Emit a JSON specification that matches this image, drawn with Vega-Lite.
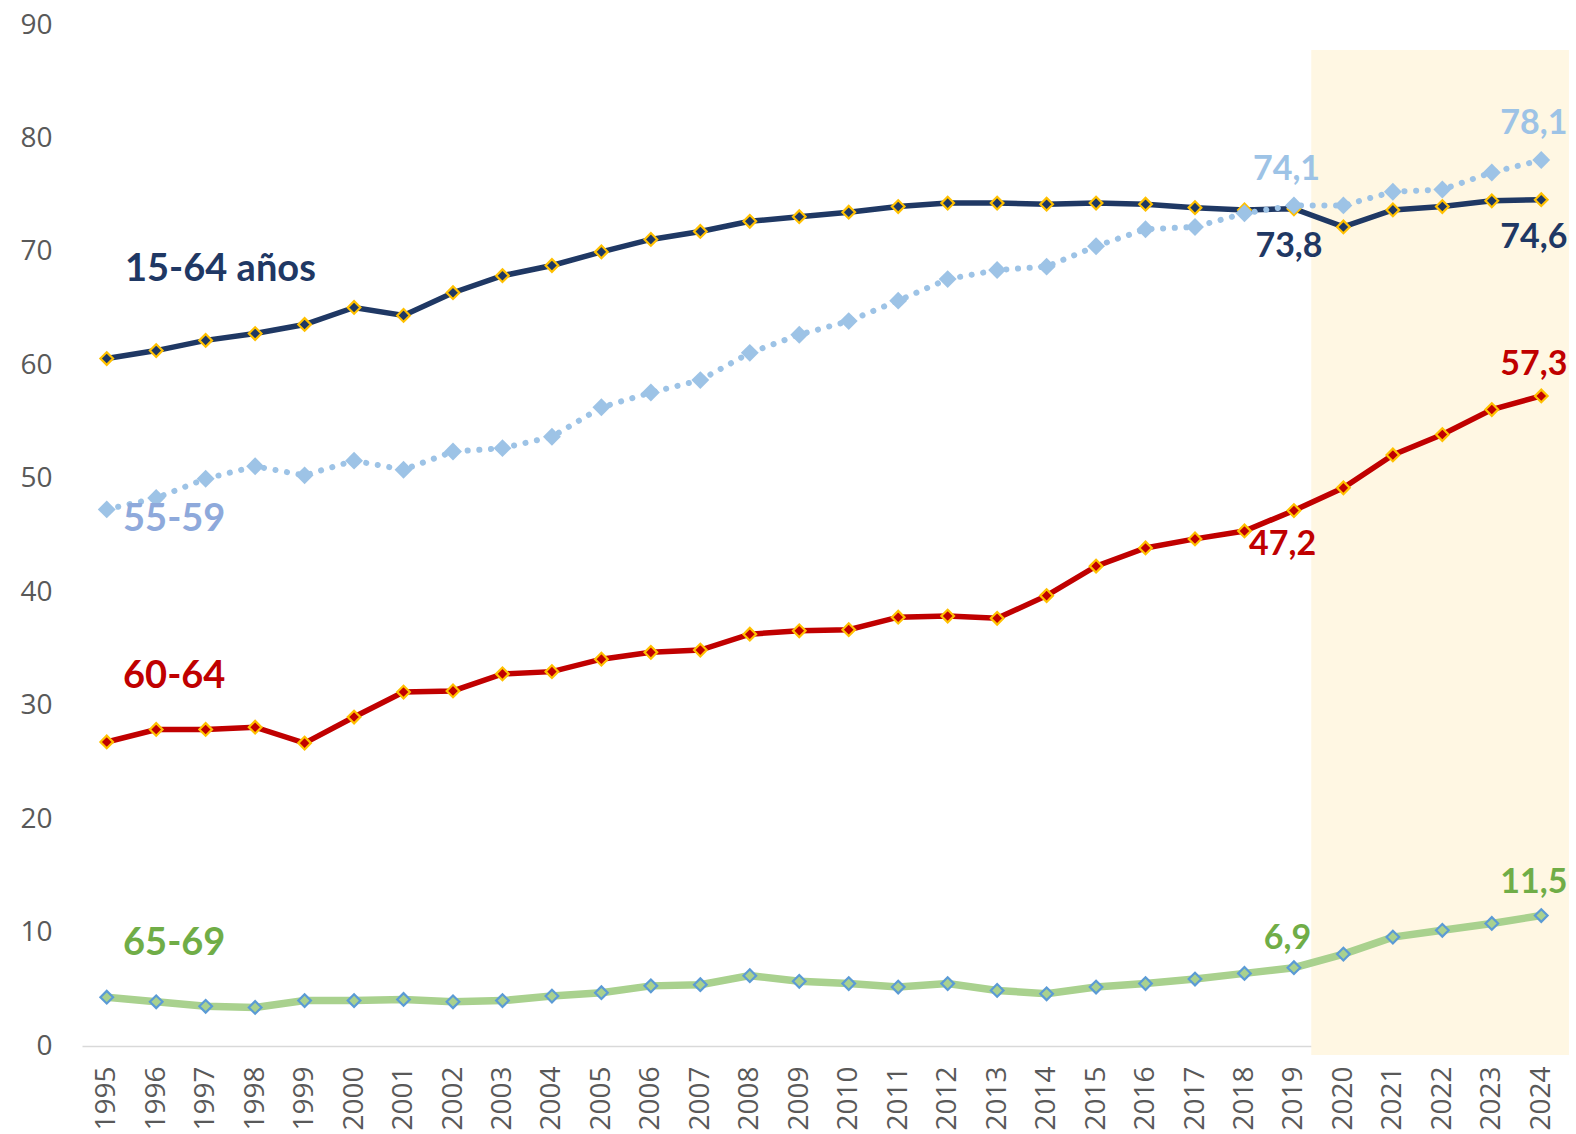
{
  "$schema": "https://vega.github.io/schema/vega-lite/v6.json",
  "width": 1484,
  "height": 1021,
  "autosize": {"type": "none"},
  "padding": {"left": 82, "top": 25, "right": 10, "bottom": 88},
  "background": "white",
  "config": {"view": {"stroke": null}},
  "datasets": {
    "series": [
      {"year":1995,"series":"15-64","value":60.6},{"year":1996,"series":"15-64","value":61.3},{"year":1997,"series":"15-64","value":62.2},{"year":1998,"series":"15-64","value":62.8},{"year":1999,"series":"15-64","value":63.6},{"year":2000,"series":"15-64","value":65.1},{"year":2001,"series":"15-64","value":64.4},{"year":2002,"series":"15-64","value":66.4},{"year":2003,"series":"15-64","value":67.9},{"year":2004,"series":"15-64","value":68.8},{"year":2005,"series":"15-64","value":70.0},{"year":2006,"series":"15-64","value":71.1},{"year":2007,"series":"15-64","value":71.8},{"year":2008,"series":"15-64","value":72.7},{"year":2009,"series":"15-64","value":73.1},{"year":2010,"series":"15-64","value":73.5},{"year":2011,"series":"15-64","value":74.0},{"year":2012,"series":"15-64","value":74.3},{"year":2013,"series":"15-64","value":74.3},{"year":2014,"series":"15-64","value":74.2},{"year":2015,"series":"15-64","value":74.3},{"year":2016,"series":"15-64","value":74.2},{"year":2017,"series":"15-64","value":73.9},{"year":2018,"series":"15-64","value":73.7},{"year":2019,"series":"15-64","value":73.8},{"year":2020,"series":"15-64","value":72.2},{"year":2021,"series":"15-64","value":73.7},{"year":2022,"series":"15-64","value":74.0},{"year":2023,"series":"15-64","value":74.5},{"year":2024,"series":"15-64","value":74.6},
      {"year":1995,"series":"55-59","value":47.3},{"year":1996,"series":"55-59","value":48.3},{"year":1997,"series":"55-59","value":50.0},{"year":1998,"series":"55-59","value":51.1},{"year":1999,"series":"55-59","value":50.3},{"year":2000,"series":"55-59","value":51.6},{"year":2001,"series":"55-59","value":50.8},{"year":2002,"series":"55-59","value":52.4},{"year":2003,"series":"55-59","value":52.7},{"year":2004,"series":"55-59","value":53.7},{"year":2005,"series":"55-59","value":56.3},{"year":2006,"series":"55-59","value":57.6},{"year":2007,"series":"55-59","value":58.7},{"year":2008,"series":"55-59","value":61.1},{"year":2009,"series":"55-59","value":62.7},{"year":2010,"series":"55-59","value":63.9},{"year":2011,"series":"55-59","value":65.7},{"year":2012,"series":"55-59","value":67.6},{"year":2013,"series":"55-59","value":68.4},{"year":2014,"series":"55-59","value":68.7},{"year":2015,"series":"55-59","value":70.5},{"year":2016,"series":"55-59","value":72.0},{"year":2017,"series":"55-59","value":72.2},{"year":2018,"series":"55-59","value":73.4},{"year":2019,"series":"55-59","value":74.1},{"year":2020,"series":"55-59","value":74.1},{"year":2021,"series":"55-59","value":75.3},{"year":2022,"series":"55-59","value":75.5},{"year":2023,"series":"55-59","value":77.0},{"year":2024,"series":"55-59","value":78.1},
      {"year":1995,"series":"60-64","value":26.8},{"year":1996,"series":"60-64","value":27.9},{"year":1997,"series":"60-64","value":27.9},{"year":1998,"series":"60-64","value":28.1},{"year":1999,"series":"60-64","value":26.7},{"year":2000,"series":"60-64","value":29.0},{"year":2001,"series":"60-64","value":31.2},{"year":2002,"series":"60-64","value":31.3},{"year":2003,"series":"60-64","value":32.8},{"year":2004,"series":"60-64","value":33.0},{"year":2005,"series":"60-64","value":34.1},{"year":2006,"series":"60-64","value":34.7},{"year":2007,"series":"60-64","value":34.9},{"year":2008,"series":"60-64","value":36.3},{"year":2009,"series":"60-64","value":36.6},{"year":2010,"series":"60-64","value":36.7},{"year":2011,"series":"60-64","value":37.8},{"year":2012,"series":"60-64","value":37.9},{"year":2013,"series":"60-64","value":37.7},{"year":2014,"series":"60-64","value":39.7},{"year":2015,"series":"60-64","value":42.3},{"year":2016,"series":"60-64","value":43.9},{"year":2017,"series":"60-64","value":44.7},{"year":2018,"series":"60-64","value":45.4},{"year":2019,"series":"60-64","value":47.2},{"year":2020,"series":"60-64","value":49.2},{"year":2021,"series":"60-64","value":52.1},{"year":2022,"series":"60-64","value":53.9},{"year":2023,"series":"60-64","value":56.1},{"year":2024,"series":"60-64","value":57.3},
      {"year":1995,"series":"65-69","value":4.3},{"year":1996,"series":"65-69","value":3.9},{"year":1997,"series":"65-69","value":3.5},{"year":1998,"series":"65-69","value":3.4},{"year":1999,"series":"65-69","value":4.0},{"year":2000,"series":"65-69","value":4.0},{"year":2001,"series":"65-69","value":4.1},{"year":2002,"series":"65-69","value":3.9},{"year":2003,"series":"65-69","value":4.0},{"year":2004,"series":"65-69","value":4.4},{"year":2005,"series":"65-69","value":4.7},{"year":2006,"series":"65-69","value":5.3},{"year":2007,"series":"65-69","value":5.4},{"year":2008,"series":"65-69","value":6.2},{"year":2009,"series":"65-69","value":5.7},{"year":2010,"series":"65-69","value":5.5},{"year":2011,"series":"65-69","value":5.2},{"year":2012,"series":"65-69","value":5.5},{"year":2013,"series":"65-69","value":4.9},{"year":2014,"series":"65-69","value":4.6},{"year":2015,"series":"65-69","value":5.2},{"year":2016,"series":"65-69","value":5.5},{"year":2017,"series":"65-69","value":5.9},{"year":2018,"series":"65-69","value":6.4},{"year":2019,"series":"65-69","value":6.9},{"year":2020,"series":"65-69","value":8.1},{"year":2021,"series":"65-69","value":9.6},{"year":2022,"series":"65-69","value":10.2},{"year":2023,"series":"65-69","value":10.8},{"year":2024,"series":"65-69","value":11.5}
    ],
    "shade": [{"year": 2019.35, "year2": 2024.56, "value": -0.8, "value2": 87.8}],
    "names": [
      {"text": "15-64 años", "series": "15-64", "year": 1995.37, "value": 68.4},
      {"text": "55-59", "series": "55-59", "year": 1995.33, "value": 46.4},
      {"text": "60-64", "series": "60-64", "year": 1995.33, "value": 32.5},
      {"text": "65-69", "series": "65-69", "year": 1995.33, "value": 9.0}
    ],
    "values": [
      {"text": "74,1", "series": "55-59", "year": 2018.85, "value": 77.2},
      {"text": "78,1", "series": "55-59", "year": 2023.85, "value": 81.3},
      {"text": "73,8", "series": "15-64", "year": 2018.9, "value": 70.4},
      {"text": "74,6", "series": "15-64", "year": 2023.85, "value": 71.25},
      {"text": "47,2", "series": "60-64", "year": 2018.77, "value": 44.2},
      {"text": "57,3", "series": "60-64", "year": 2023.85, "value": 60.0},
      {"text": "6,9", "series": "65-69", "year": 2018.87, "value": 9.4},
      {"text": "11,5", "series": "65-69", "year": 2023.85, "value": 14.4}
    ]
  },
  "encoding": {
    "x": {
      "field": "year", "type": "quantitative",
      "scale": {"domain": [1994.5, 2024.5], "nice": false, "zero": false},
      "axis": {
        "values": [1995,1996,1997,1998,1999,2000,2001,2002,2003,2004,2005,2006,2007,2008,2009,2010,2011,2012,2013,2014,2015,2016,2017,2018,2019,2020,2021,2022,2023,2024],
        "format": "d", "labelAngle": -90, "labelFont": "Open Sans", "labelFontSize": 28,
        "labelColor": "#595959", "ticks": false, "grid": false, "title": null,
        "domainColor": "#D9D9D9", "domainWidth": 1.5, "labelPadding": 20,
        "labelFlush": false, "labelOverlap": false
      }
    },
    "y": {
      "field": "value", "type": "quantitative",
      "scale": {"domain": [0, 90], "nice": false},
      "axis": {
        "values": [0,10,20,30,40,50,60,70,80,90],
        "domain": false, "ticks": false, "grid": false, "title": null,
        "labelFont": "Open Sans", "labelFontSize": 28, "labelColor": "#595959",
        "labelPadding": 30
      }
    }
  },
  "resolve": {"scale": {"color": "independent"}},
  "layer": [
    {
      "data": {"name": "shade"},
      "mark": {"type": "rect", "color": "#FFF7E3", "clip": false},
      "encoding": {"x2": {"field": "year2"}, "y2": {"field": "value2"}}
    },
    {
      "data": {"name": "series"},
      "transform": [{"filter": "datum.series === '65-69'"}],
      "mark": {"type": "line", "color": "#A9D18E", "strokeWidth": 7.5}
    },
    {
      "data": {"name": "series"},
      "transform": [{"filter": "datum.series === '65-69'"}],
      "mark": {"type": "point", "shape": "diamond", "filled": true, "fill": "#A9D18E", "stroke": "#5B9BD5", "strokeWidth": 2.2, "size": 160, "opacity": 1}
    },
    {
      "data": {"name": "series"},
      "transform": [{"filter": "datum.series === '60-64'"}],
      "mark": {"type": "line", "color": "#C00000", "strokeWidth": 5.5}
    },
    {
      "data": {"name": "series"},
      "transform": [{"filter": "datum.series === '60-64'"}],
      "mark": {"type": "point", "shape": "diamond", "filled": true, "fill": "#C00000", "stroke": "#FFC000", "strokeWidth": 2.2, "size": 160, "opacity": 1}
    },
    {
      "data": {"name": "series"},
      "transform": [{"filter": "datum.series === '15-64'"}],
      "mark": {"type": "line", "color": "#1F3864", "strokeWidth": 5.5}
    },
    {
      "data": {"name": "series"},
      "transform": [{"filter": "datum.series === '15-64'"}],
      "mark": {"type": "point", "shape": "diamond", "filled": true, "fill": "#1F3864", "stroke": "#FFC000", "strokeWidth": 2.2, "size": 160, "opacity": 1}
    },
    {
      "data": {"name": "series"},
      "transform": [{"filter": "datum.series === '55-59'"}],
      "mark": {"type": "line", "color": "#9DC3E6", "strokeWidth": 6, "strokeDash": [0.1, 11.6], "strokeCap": "round"}
    },
    {
      "data": {"name": "series"},
      "transform": [{"filter": "datum.series === '55-59'"}],
      "mark": {"type": "point", "shape": "diamond", "filled": true, "fill": "#9DC3E6", "strokeWidth": 0, "size": 320, "opacity": 1}
    },
    {
      "data": {"name": "names"},
      "mark": {"type": "text", "align": "left", "baseline": "middle", "font": "Lato", "fontWeight": "bold", "fontSize": 38},
      "encoding": {
        "text": {"field": "text"},
        "color": {"field": "series", "type": "nominal", "legend": null,
          "scale": {"domain": ["15-64", "55-59", "60-64", "65-69"], "range": ["#1F3864", "#8EA9DB", "#C00000", "#70AD47"]}}
      }
    },
    {
      "data": {"name": "values"},
      "mark": {"type": "text", "align": "center", "baseline": "middle", "font": "Lato", "fontWeight": "bold", "fontSize": 34},
      "encoding": {
        "text": {"field": "text"},
        "color": {"field": "series", "type": "nominal", "legend": null,
          "scale": {"domain": ["15-64", "55-59", "60-64", "65-69"], "range": ["#1F3864", "#9DC3E6", "#C00000", "#70AD47"]}}
      }
    }
  ]
}
